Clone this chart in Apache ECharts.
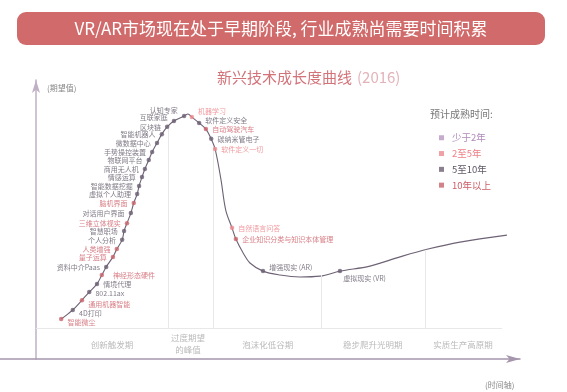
<!DOCTYPE html>
<html><head><meta charset="utf-8">
<script src="https://cdn.jsdelivr.net/npm/echarts@6/dist/echarts.min.js"></script>
<style>html,body{margin:0;padding:0;background:#fff}#c{width:567px;height:392px}</style>
</head><body><div id="c"></div>
<script>
// ---- data (time axis 0..100, expectation axis 0..100) ----
const techNames = ['智能微尘','4D打印','通用机器智能','802.11ax','情境代理','神经形态硬件','资料中介Paas','量子运算','人类增强','个人分析','智慧职场','三维立体视实','对话用户界面','脑机界面','虚拟个人助理','智能数据挖掘','情感运算','商用无人机','物联网平台','手势操控装置','微数据中心','智能机器人','区块链','互联家庭','认知专家','机器学习','软件定义安全','自动驾驶汽车','碳纳米管电子','软件定义一切','自然语言问答','企业知识分类与知识本体管理','增强现实 (AR)','虚拟现实 (VR)'];
const techTime = [5.2,7.6,9.5,11.0,12.6,13.6,14.5,15.9,16.7,17.8,18.2,18.8,19.6,20.2,20.9,21.3,21.9,22.5,23.3,24.0,25.0,26.0,27.1,28.5,30.6,32.2,33.7,35.1,36.2,37.0,40.5,41.3,46.9,62.8];
const techHype = [14.3,17.6,21.1,24.0,26.9,30.1,33.0,36.6,39.4,42.7,45.9,48.7,52.3,55.9,59.1,62.0,65.2,68.1,71.3,74.2,77.4,80.6,83.2,85.3,87.1,86.7,84.6,82.4,78.9,75.3,47.0,43.0,31.5,31.5];
const techGroup = [3,2,3,2,2,3,2,3,3,2,2,3,2,3,2,2,2,2,2,2,2,2,2,2,2,1,2,3,2,1,1,3,2,2];
const groups = ['少于2年','2至5年','5至10年','10年以上'];
// extra points of the curve between the dots
const curveTime = [31.4,38.2,39.2,42.8,44.2,50.4,54.5,58.7,69.0,75.2,81.0,87.6,97.3];
const curveHype = [87.8,64.5,53.4,38.0,34.4,30.1,29.4,29.7,33.3,36.6,39.4,41.9,44.4];
const phaseNames = ['创新触发期','过度期望\n的峰值','泡沫化低谷期','稳步爬升光明期','实质生产高原期'];
const phaseTime = [15.7,31.4,47.9,69.6,88.2];
const phaseHype = [5.0,5.4,5.0,5.0,5.0];
const dividerTime = [27.3,36.6,58.9,80.4];
const dividerTop = [83.5,76.0,30.1,39.1];
const baseHype = 11.1;
const baseEnd = 96.3;

// ---- style ----
const FONT = '"Noto Sans CJK SC","Noto Sans",sans-serif';
const groupColors = ['#b896c2','#ec8a8f','#6c5f73','#c9636b'];
const groupTextColors = ['#b08abb','#ee7f86','#5f5866','#cd5d66'];
const leftIdx = new Set([6,7,8,9,10,11,12,13,14,15,16,17,18,19,20,21,22,23,24]);
const labelOffset = {23:[0,-4],24:[0,-6],25:[0,-6],26:[0,-3],32:[0,-4],33:[-3,7],0:[0,3],1:[0,3],2:[0,4],3:[0,1]};
const labelDist = {5:9};

const pts = [];
techTime.forEach((t,i)=>pts.push([t,techHype[i]]));
curveTime.forEach((t,i)=>pts.push([curveTime[i],curveHype[i]]));
pts.sort((a,b)=>a[0]-b[0]);

const dotSeries = groups.map((g,gi)=>({
  name:g, type:'scatter', xAxisIndex:0, yAxisIndex:0, symbolSize:4.5, z:5,
  itemStyle:{color:groupColors[gi]},
  data: techNames.map((n,i)=>({n,i})).filter(o=>techGroup[o.i]===gi).map(o=>({
    name:o.n, value:[techTime[o.i],techHype[o.i]],
    label:{show:true, formatter:o.n, position: leftIdx.has(o.i)?'left':'right',
      distance: labelDist[o.i]||4, offset: labelOffset[o.i]||[0,0],
      color:groupTextColors[gi], fontSize:7, fontFamily:FONT}
  }))
}));

const markData = dividerTime.map((t,i)=>[{coord:[t,dividerTop[i]]},{coord:[t,baseHype]}]);
markData.push([{coord:[0,baseHype]},{coord:[baseEnd,baseHype]}]);

const option = {
  animation:false,
  title:{text:'{a|新兴技术成长度曲线} {b|(2016)}', left:212, top:63,
    textStyle:{rich:{a:{fontSize:15,color:'#d2737a',fontFamily:FONT,fontWeight:'normal'},b:{fontSize:15,color:'#e3b3ba',fontFamily:FONT,fontWeight:'normal'}}}},
  legend:{orient:'vertical', left:434, top:128, itemWidth:5, itemHeight:5, itemGap:6.3, selectedMode:false,
    textStyle:{fontSize:9.5, fontFamily:FONT, padding:[0,0,0,3]},
    data: groups.map((g,i)=>({name:g, icon:'rect', textStyle:{color:groupTextColors[i]}}))},
  grid:[{left:36, top:80, width:484, height:279},{left:0, top:80, width:520, height:279}],
  xAxis:[
    {gridIndex:0, type:'value', min:0, max:100, show:false},
    {gridIndex:1, type:'value', min:0, max:100, axisLine:{show:true, onZero:false, lineStyle:{color:'#a596ad', width:1.5}, symbol:['none','arrow'], symbolSize:[6,14]}, axisTick:{show:false}, axisLabel:{show:false}, splitLine:{show:false}}
  ],
  yAxis:[
    {gridIndex:0, type:'value', min:0, max:100, axisLine:{show:true, onZero:false, lineStyle:{color:'#bfb0c6', width:1.5}, symbol:['none','arrow'], symbolSize:[6,13]}, axisTick:{show:false}, axisLabel:{show:false}, splitLine:{show:false}},
    {gridIndex:1, type:'value', min:0, max:100, show:false}
  ],
  graphic:[
    {type:'rect', shape:{x:17, y:12, width:528, height:33, r:9}, style:{fill:'#d16a6a'}},
    {type:'text', x:281, y:28.5, style:{text:'VR/AR市场现在处于早期阶段, 行业成熟尚需要时间积累', fill:'#fff', font:'17px '+FONT, textAlign:'center', textVerticalAlign:'middle'}},
    {type:'text', x:430, y:114, style:{text:'预计成熟时间:', fill:'#777', font:'10px '+FONT, textVerticalAlign:'middle'}},
    {type:'text', x:47, y:88, style:{text:'(期望值)', fill:'#888', font:'8px '+FONT, textVerticalAlign:'middle'}},
    {type:'text', x:485, y:385, style:{text:'(时间轴)', fill:'#888', font:'8px '+FONT, textVerticalAlign:'middle'}}
  ],
  series:[
    {type:'line', xAxisIndex:0, yAxisIndex:0, data:pts, smooth:0.35, showSymbol:false, silent:true, z:3,
     lineStyle:{color:'#6e6275', width:1.1},
     markLine:{silent:true, symbol:['none','none'], label:{show:false}, lineStyle:{color:'#e8e8e8', width:1, type:'solid'}, data:markData}},
    {type:'scatter', xAxisIndex:0, yAxisIndex:0, symbolSize:0, silent:true,
     data: phaseNames.map((n,i)=>({name:n, value:[phaseTime[i],phaseHype[i]]})),
     label:{show:true, position:'inside', formatter:'{b}', color:'#a9a9a9', fontSize:8.5, lineHeight:12, fontFamily:FONT}},
    ...dotSeries
  ]
};
echarts.init(document.getElementById('c')).setOption(option);
</script></body></html>
